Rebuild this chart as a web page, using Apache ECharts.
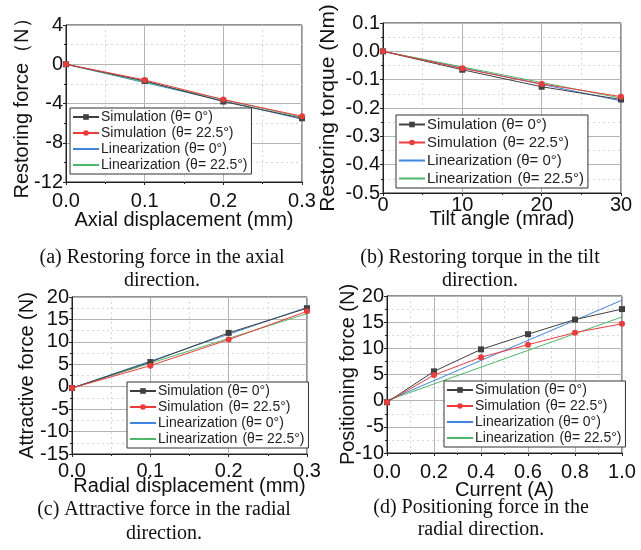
<!DOCTYPE html>
<html><head><meta charset="utf-8">
<script src="https://cdn.jsdelivr.net/npm/echarts@6/dist/echarts.min.js"></script>
<style>html,body{margin:0;padding:0;background:#fff}#c{width:641px;height:550px}</style>
</head><body><div id="c"></div>
<script>
// ---- data ----
const seriesNames = ['Simulation (θ= 0°)', 'Simulation \u200a(θ= 22.5°)', 'Linearization (θ= 0°)', 'Linearization \u200a(θ= 22.5°)'];

// (a) axial
const aX = [0, 0.1, 0.2, 0.3];
const aSim0 = [0, -1.7, -3.8, -5.5];
const aSim22 = [0, -1.6, -3.6, -5.3];
const aLinX = [0, 0.3];
const aLin0 = [0, -5.6];
const aLin22 = [0, -5.4];

// (b) tilt
const bX = [0, 10, 20, 30];
const bSim0 = [0, -0.065, -0.125, -0.17];
const bSim22 = [0, -0.06, -0.115, -0.16];
const bLinX = [0, 30];
const bLin0 = [0, -0.175];
const bLin22 = [0, -0.165];

// (c) radial attractive
const cX = [0, 0.1, 0.2, 0.3];
const cSim0 = [-0.3, 5.5, 12.0, 17.5];
const cSim22 = [-0.3, 4.7, 10.5, 16.8];
const cLinX = [0, 0.3];
const cLin0 = [-0.3, 17.7];
const cLin22 = [-0.3, 16.3];

// (d) positioning
const dX = [0, 0.2, 0.4, 0.6, 0.8, 1.0];
const dSim0 = [-0.3, 5.6, 9.8, 12.7, 15.5, 17.5];
const dSim22 = [-0.3, 4.9, 8.3, 10.7, 13.0, 14.7];
const dLinX = [0, 1.0];
const dLin0 = [0, 19.2];
const dLin22 = [0, 16.0];

const captions = [
  ['(a) Restoring force in the axial', 'direction.'],
  ['(b) Restoring torque in the tilt', 'direction.'],
  ['(c) Attractive force in the radial', 'direction.'],
  ['(d) Positioning force in the', 'radial direction.']
];

// ---- styling ----
const colors = ['#404040', '#f03a3a', '#3f86e0', '#4cb86a'];
const FONT = 'Liberation Sans, Arial, sans-serif';
const zip = (xs, ys) => xs.map((x, i) => [x, ys[i]]);

const panels = [
  {grid:{left:66, top:25, width:236, height:157}, x:{min:0,max:0.3,interval:0.1,dec:1}, y:{min:-12,max:4,interval:4,dec:0},
   xName:'Axial displacement (mm)', yName:'Restoring force（N）', xGap:28, yGap:34, xMargin:9, yFs:20,
   data:[zip(aX,aSim0), zip(aX,aSim22), zip(aLinX,aLin0), zip(aLinX,aLin22)],
   legend:{left:70, top:108, fs:14, gap:2}},
  {grid:{left:383, top:23, width:238, height:170}, x:{min:0,max:30,interval:10,dec:0}, y:{min:-0.5,max:0.1,interval:0.1,dec:1},
   xName:'Tilt angle (mrad)', yName:'Restoring torque (Nm)', xGap:16, yGap:44, xMargin:2, yFs:21,
   data:[zip(bX,bSim0), zip(bX,bSim22), zip(bLinX,bLin0), zip(bLinX,bLin22)],
   legend:{left:396, top:115, fs:15, gap:3}},
  {grid:{left:72, top:297, width:235, height:157}, x:{min:0,max:0.3,interval:0.1,dec:1}, y:{min:-15,max:20,interval:5,dec:0},
   xName:'Radial displacement (mm)', yName:'Attractive force (N)', xGap:22, yGap:35, xMargin:7, yFs:20,
   data:[zip(cX,cSim0), zip(cX,cSim22), zip(cLinX,cLin0), zip(cLinX,cLin22)],
   legend:{left:127, top:382, fs:14, gap:2}},
  {grid:{left:387, top:296, width:235, height:157}, x:{min:0,max:1,interval:0.2,dec:1}, y:{min:-10,max:20,interval:5,dec:0},
   xName:'Current (A)', yName:'Positioning force (N)', xGap:27, yGap:29, xMargin:9, yFs:20,
   data:[zip(dX,dSim0), zip(dX,dSim22), zip(dLinX,dLin0), zip(dLinX,dLin22)],
   legend:{left:444, top:381, fs:14, gap:2}}
];

const grid = [], xAxis = [], yAxis = [], series = [], legend = [], graphic = [];
const captionPos = [[162, 258, 23], [480, 258, 23], [164, 510, 24], [481, 508, 22]];

function axisCommon(p, name, gap, fs) {
  return {
    type:'value', gridIndex:p,
    name: name, nameLocation:'middle', nameGap: gap, nameMoveOverlap:false,
    nameTextStyle:{fontFamily:FONT, fontSize:fs, color:'#111'},
    axisLine:{show:true, onZero:false, lineStyle:{color:'#222', width:1}},
    axisTick:{show:true, inside:false, length:3, lineStyle:{color:'#222'}},
    minorTick:{show:true, splitNumber:2, length:2, lineStyle:{color:'#222'}},
    axisLabel:{fontFamily:FONT, fontSize:20, color:'#111', showMinLabel:true, showMaxLabel:true, hideOverlap:false},
    splitLine:{show:true, lineStyle:{color:'#b4b4b4', width:1}},
    minorSplitLine:{show:true, lineStyle:{color:'#d8d8d8', width:1, type:[2,3]}}
  };
}

panels.forEach((pn, p) => {
  grid.push(Object.assign({show:true, borderColor:'#222', borderWidth:1, backgroundColor:'#fff'}, pn.grid));
  const xa = axisCommon(p, pn.xName, pn.xGap, 20);
  Object.assign(xa, {min:pn.x.min, max:pn.x.max, interval:pn.x.interval});
  xa.axisLabel.formatter = v => v.toFixed(pn.x.dec);
  xa.axisLabel.margin = pn.xMargin;
  xAxis.push(xa);
  const ya = axisCommon(p, pn.yName, pn.yGap, pn.yFs);
  Object.assign(ya, {min:pn.y.min, max:pn.y.max, interval:pn.y.interval});
  ya.axisLabel.formatter = v => (Math.abs(v) < 1e-9 ? 0 : v).toFixed(pn.y.dec);
  ya.axisLabel.margin = 3;
  yAxis.push(ya);
  pn.data.forEach((d, k) => {
    const isSim = k < 2;
    series.push({
      name: seriesNames[k], type:'line', xAxisIndex:p, yAxisIndex:p, data:d,
      symbol: k === 0 ? 'rect' : 'circle', symbolSize: 6,
      showSymbol: isSim,
      itemStyle:{color:colors[k], opacity: isSim ? 1 : 0},
      lineStyle:{color:colors[k], width:1},
      emphasis:{disabled:true}, animation:false, z: 3 + (isSim ? 1 : 0)
    });
  });
  legend.push({
    left:pn.legend.left, top:pn.legend.top, orient:'vertical', data:seriesNames,
    backgroundColor:'#fff', borderColor:'#333', borderWidth:1, padding:[2,4,2,2],
    itemGap:pn.legend.gap, itemWidth:26, itemHeight:7,
    textStyle:{fontFamily:FONT, fontSize:pn.legend.fs, color:'#222', padding:[0,0,0,-3]}
  });
  captions[p].forEach((t, i) => {
    graphic.push({type:'text', x:captionPos[p][0], y:captionPos[p][1] + i*captionPos[p][2],
      style:{text:t, textAlign:'center', textVerticalAlign:'middle', font:'20px "Liberation Serif", "Times New Roman", serif', fill:'#111'}});
  });
});

const chart = echarts.init(document.getElementById('c'), null, {renderer:'canvas'});
chart.setOption({animation:false, backgroundColor:'#fff', grid, xAxis, yAxis, series, legend, graphic});
</script></body></html>
